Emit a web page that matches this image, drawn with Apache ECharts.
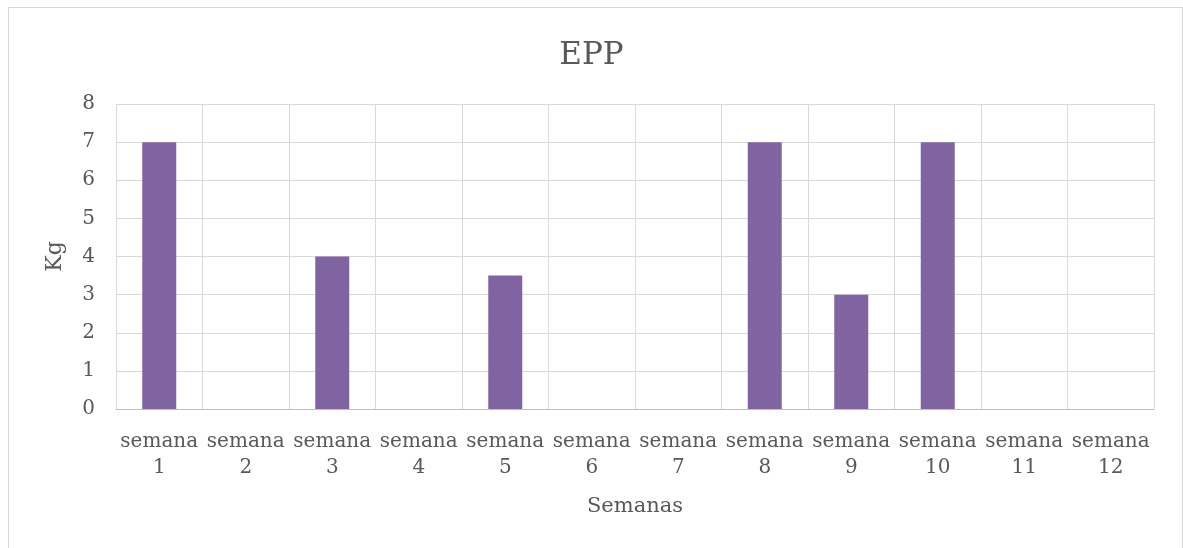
<!DOCTYPE html>
<html>
<head>
<meta charset="utf-8">
<script src="https://cdn.jsdelivr.net/npm/echarts@6/dist/echarts.min.js"></script>
<style>
  body { margin: 0; background: #fff; }
  #chart { position: absolute; left: 0; top: 0; width: 1183px; height: 548px; }
  #frame { position: absolute; left: 8px; top: 7px; width: 1173px; height: 560px;
           border: 1px solid #d9d9d9; pointer-events: none; }
</style>
</head>
<body>
<div id="chart"></div>
<div id="frame"></div>
<script>
const semanas = ["semana\n1", "semana\n2", "semana\n3", "semana\n4", "semana\n5", "semana\n6",
                 "semana\n7", "semana\n8", "semana\n9", "semana\n10", "semana\n11", "semana\n12"];
const kg = [7, 0, 4, 0, 3.5, 0, 0, 7, 3, 7, 0, 0];

const font = "DejaVu Serif";
const chart = echarts.init(document.getElementById("chart"));

const option = {
  animation: false,
  title: {
    text: "EPP",
    left: "center",
    top: 35,
    textStyle: { fontFamily: font, fontSize: 31, fontWeight: "normal", color: "#595959" }
  },
  grid: { left: 116, right: 29, top: 104, bottom: 139 },
  xAxis: {
    type: "category",
    data: semanas,
    name: "Semanas",
    nameLocation: "middle",
    nameGap: 87,
    nameTextStyle: { fontFamily: font, fontSize: 21, color: "#595959" },
    axisLine: { lineStyle: { color: "#bfbfbf" } },
    axisTick: { show: false },
    axisLabel: { fontFamily: font, fontSize: 20, color: "#595959", lineHeight: 26, margin: 20, interval: 0 },
    splitLine: { show: true, lineStyle: { color: "#d9d9d9" } }
  },
  yAxis: {
    type: "value",
    min: 0,
    max: 8,
    interval: 1,
    name: "Kg",
    nameLocation: "middle",
    nameGap: 50,
    nameTextStyle: { fontFamily: font, fontSize: 22, color: "#595959" },
    axisLine: { show: false },
    axisLabel: { fontFamily: font, fontSize: 20, color: "#595959", margin: 21 },
    splitLine: { lineStyle: { color: "#d9d9d9" } }
  },
  series: [{
    type: "bar",
    data: kg,
    barWidth: 34,
    itemStyle: { color: "#8064a2" }
  }]
};

chart.setOption(option);
</script>
</body>
</html>
